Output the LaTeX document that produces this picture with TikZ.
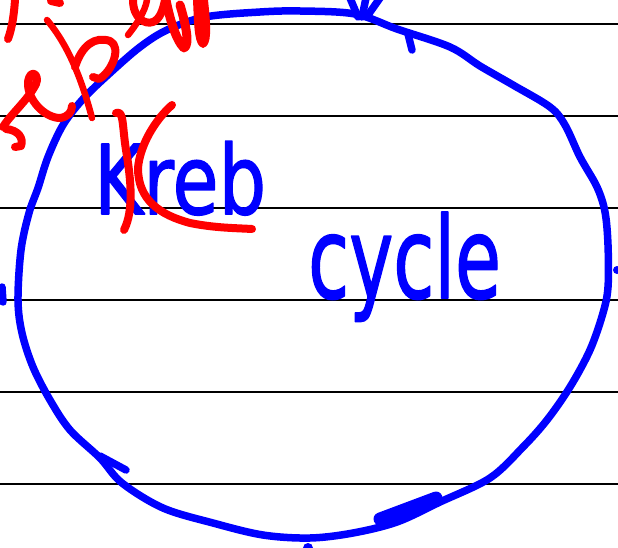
\documentclass[tikz,border=0pt]{standalone}
\usepackage{fontspec}
\usepackage{graphicx}
\newfontfamily\hand[FakeBold=1.6]{DejaVu Sans}
\begin{document}
\begin{tikzpicture}[x=1pt,y=-1pt,line cap=round,line join=round,
  rule/.style={black,line width=2pt},
  ink/.style={blue,line width=7.5pt},
  redink/.style={red,line width=8pt},
  word/.style={text=blue,anchor=base west,inner sep=0pt}]
\useasboundingbox (0,0) rectangle (618,548);
\fill[white] (0,0) rectangle (618,548);
% ruled lines
\foreach \y in {24,116,208,300,392,484} \draw[rule] (0,\y) -- (618,\y);
% the cycle loop
\draw[ink] plot[smooth cycle,tension=0.55] coordinates {
 (260,12) (300,11) (355,14) (397,29) (450,47) (480,66) (513,85) (550,107)
 (565,125) (580,157) (597,187) (605,212) (608,245) (608,287) (603,313)
 (590,350) (570,387) (547,420) (523,447) (490,478) (440,502) (397,522)
 (353,533) (310,538) (263,535) (213,523) (163,508) (122,483) (100,458)
 (70,430) (50,400) (33,367) (22,333) (18,300) (21,250) (29,213) (38,188)
 (48,157) (63,125) (83,99) (110,73) (140,47) (167,30) (205,17)};
% arrow marks on the loop
\draw[ink] (358,17) -- (350,-2);
\draw[ink] (362,17) -- (366,-2);
\draw[ink] (368,15) -- (380,-2);
\draw[ink] (408,34) -- (412,50);
\draw[ink] (100,456) -- (126,470);
\draw[blue,line width=13pt] (380,519) -- (436,498);
\draw[ink] (2,287) -- (3,302);
\fill[blue] (617,270) circle (4);
\fill[blue] (308,548) circle (5);
% words
\node[word,font=\hand\fontsize{96}{96}\selectfont] (kreb) at (94,214) {\scalebox{0.78}[1]{Kreb}};
\node[word,font=\hand\fontsize{113}{113}\selectfont] (cycle) at (308,298) {\scalebox{0.66}[1]{cycle}};
% red corrections over the K
\draw[redink] (116,113) .. controls (124,110) and (122,125) .. (126,150)
  .. controls (131,180) and (134,210) .. (124,230);
\draw[redink] (172,105) .. controls (155,120) and (140,145) .. (138,168)
  .. controls (138,200) and (160,215) .. (190,223)
  .. controls (215,228) and (235,228) .. (252,229);
% red scribbles, top left
\draw[redink] (15,0) .. controls (14,15) and (12,28) .. (8,39);
\draw[redink] (51,1) -- (60,3);
\draw[redink,line width=6.5pt] (47,20) .. controls (62,38) and (78,65) .. (92,118);
\draw[redink] (75,67) .. controls (82,45) and (95,36) .. (110,41)
  .. controls (122,47) and (112,72) .. (99,79) -- (93,77);
\draw[redink] (3,127) .. controls (10,115) and (28,100) .. (36,84)
  .. controls (40,74) and (30,68) .. (28,82)
  .. controls (27,100) and (45,118) .. (60,118) .. controls (68,117) and (72,112) .. (72,106);
\draw[redink] (6,129) .. controls (18,130) and (24,138) .. (21,146) -- (15,147);
\draw[redink,line width=6.5pt] (128,35) .. controls (136,25) and (145,12) .. (147,0);
\draw[redink] (133,0) .. controls (133,18) and (145,25) .. (153,22) .. controls (160,19) and (163,10) .. (165,0);
\draw[redink,line width=9pt] (166,0) .. controls (170,20) and (176,40) .. (184,48) .. controls (190,45) and (186,25) .. (180,5);
\draw[redink] (197,0) .. controls (198,20) and (198,40) .. (203,44) .. controls (208,40) and (206,20) .. (204,0);
\end{tikzpicture}
\end{document}
